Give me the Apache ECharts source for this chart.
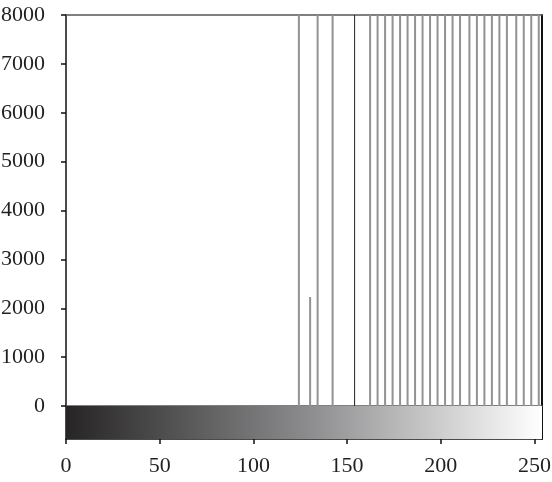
<!DOCTYPE html>
<html>
<head>
<meta charset="utf-8">
<script src="https://cdn.jsdelivr.net/npm/echarts@6/dist/echarts.min.js"></script>
<style>html,body{margin:0;padding:0;background:#fff}#c{width:552px;height:482px}</style>
</head>
<body>
<div id="c"></div>
<script>
// Gray-level histogram (pixel counts per intensity level)
var grayLevels = [124, 130, 134, 142, 162, 166, 170, 174, 178, 182, 186, 190, 194, 198, 202, 206, 210, 215, 219, 223, 227, 231, 235, 240, 244, 248, 252];
var grayCounts = [8000, 2230, 8000, 8000, 8000, 8000, 8000, 8000, 8000, 8000, 8000, 8000, 8000, 8000, 8000, 8000, 8000, 8000, 8000, 8000, 8000, 8000, 8000, 8000, 8000, 8000, 8000];
var darkLevels = [154];
var darkCounts = [8000];
var xTicks = [0, 50, 100, 150, 200, 250];
var yTicks = [0, 1000, 2000, 3000, 4000, 5000, 6000, 7000, 8000];
var xMin = 0, xMax = 254;

var font = 'Liberation Serif';
var chart = echarts.init(document.getElementById('c'));
function pairs(xs, ys) { return xs.map(function (x, i) { return [x, ys[i]]; }); }
function plain(v) { return String(v); }

function frameAxis(extra) {
  var base = {
    type: 'value',
    axisLine: { show: true, onZero: false, lineStyle: { color: '#111', width: 1.5 } },
    axisTick: { show: false }, axisLabel: { show: false }, splitLine: { show: false }
  };
  for (var k in extra) base[k] = extra[k];
  return base;
}

chart.setOption({
  animation: false,
  grid: [
    { left: 66, right: 10, top: 15, height: 391, outerBoundsMode: 'none', containLabel: false },
    { left: 66, right: 10, top: 406, height: 33, outerBoundsMode: 'none', containLabel: false }
  ],
  xAxis: [
    frameAxis({ gridIndex: 0, min: xMin, max: xMax, position: 'bottom',
      axisLine: { show: true, onZero: false, lineStyle: { color: '#555', width: 1.5 } } }),
    frameAxis({ gridIndex: 0, min: xMin, max: xMax, position: 'top',
      axisLine: { show: true, onZero: false, lineStyle: { color: '#555', width: 1.5 } } }),
    frameAxis({ gridIndex: 1, min: xMin, max: xMax, position: 'bottom',
      axisTick: { show: true, length: 5, customValues: xTicks, lineStyle: { color: '#111', width: 1.5 } },
      axisLabel: { show: true, customValues: xTicks, formatter: plain, margin: 16, fontFamily: font, fontSize: 22, color: '#231f20' } })
  ],
  yAxis: [
    frameAxis({ gridIndex: 0, min: 0, max: 8000, interval: 1000, position: 'left',
      axisTick: { show: true, length: 5, customValues: yTicks, lineStyle: { color: '#111', width: 1.5 } },
      axisLabel: { show: true, customValues: yTicks, formatter: plain, margin: 21, fontFamily: font, fontSize: 22, color: '#231f20' } }),
    frameAxis({ gridIndex: 0, min: 0, max: 8000, position: 'right',
      axisLine: { show: true, onZero: false, lineStyle: { color: '#111', width: 2 } } }),
    frameAxis({ gridIndex: 1, min: 0, max: 1, position: 'left' }),
    frameAxis({ gridIndex: 1, min: 0, max: 1, position: 'right',
      axisLine: { show: true, onZero: false, lineStyle: { color: '#111', width: 2 } } })
  ],
  series: [
    { type: 'bar', xAxisIndex: 0, yAxisIndex: 0, barWidth: 2, barGap: '-100%',
      itemStyle: { color: '#929292' }, data: pairs(grayLevels, grayCounts) },
    { type: 'bar', xAxisIndex: 0, yAxisIndex: 0, barWidth: 1, barGap: '-100%',
      itemStyle: { color: '#222' }, data: pairs(darkLevels, darkCounts) },
    { type: 'line', xAxisIndex: 2, yAxisIndex: 2, data: [], silent: true,
      markArea: { silent: true,
        itemStyle: { color: new echarts.graphic.LinearGradient(0, 0, 1, 0, [
          { offset: 0, color: '#262424' },
          { offset: 0.5, color: '#8a8a8c' },
          { offset: 1, color: '#ffffff' }
        ]) },
        data: [[{ xAxis: xMin, yAxis: 0 }, { xAxis: xMax, yAxis: 1 }]] } }
  ]
});
</script>
</body>
</html>
